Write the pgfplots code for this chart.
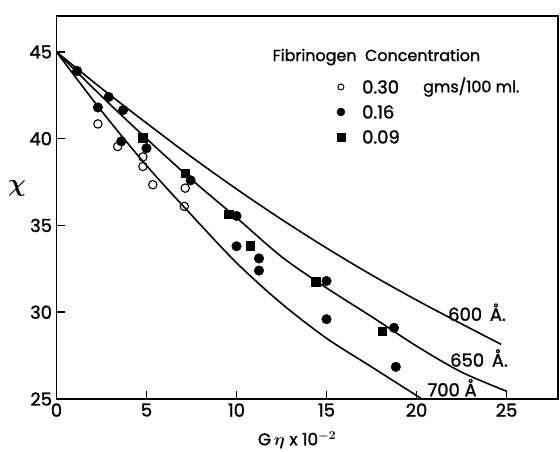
\documentclass[border=0pt]{standalone}
\usepackage{pgfplots}
\pgfplotsset{compat=1.18}
\usepackage{bm}
\usepackage{fontspec}
\setmainfont{Poppins}[FakeBold=1.3]
\begin{document}
\begin{tikzpicture}
\begin{axis}[name=ax, scale only axis, width=501.5bp, height=383bp,
  xmin=0, xmax=27.86, ymin=25, ymax=47.07, clip=false,
  axis line style={line width=1.7bp},
  xtick={0,5,10,15,20,25}, ytick={25,30,35,40,45},
  tick align=inside, xtick pos=lower, ytick pos=left,
  major tick length=8bp, tick style={line width=1.5bp, black},
  /pgf/number format/assume math mode=true,
  ticklabel style={font=\fontsize{18}{18}\selectfont},
  xticklabel style={yshift=-1bp},
  yticklabel style={xshift=-1bp},
]
% theoretical curves
\addplot[line width=1.6bp, smooth, tension=0.5] coordinates {(0,45) (2.5,42.9) (5,40.9) (7.5,38.95) (10,37.1) (12.5,35.35) (15,33.7) (17.5,32.15) (20,30.7) (22.5,29.33) (24.7,28.15)};
\addplot[line width=1.6bp, smooth, tension=0.5] coordinates {(0,45) (2.5,42.45) (5,40.0) (7.5,37.65) (10,35.45) (12.5,33.2) (15,31.4) (17.5,29.75) (20,28.05) (22.5,26.55) (25,25.45)};
\addplot[line width=1.6bp, smooth, tension=0.5] coordinates {(0,45) (2.5,41.6) (5,38.45) (7.5,35.6) (10,32.85) (12.5,30.5) (15,28.5) (17.5,26.85) (20,25.2) (20.3,25.0)};
% 0.30 open circles
\addplot[only marks, mark=o, mark size=4.2bp, mark options={line width=1.1bp, fill=white}] coordinates {(2.3,40.85) (3.4,39.55) (4.8,38.95) (4.8,38.4) (5.35,37.35) (7.15,37.15) (7.1,36.1)};
% 0.16 filled circles
\addplot[only marks, mark=*, mark size=4.8bp, black] coordinates {(1.15,43.9) (2.3,41.8) (2.9,42.4) (3.7,41.65) (3.6,39.85) (5.0,39.45) (7.45,37.6) (10.0,35.55) (10.0,33.8) (11.25,33.1) (11.25,32.4) (15.0,31.8) (15.0,29.6) (18.75,29.1) (18.85,26.85)};
% 0.09 filled squares
\addplot[only marks, mark=square*, mark size=4.3bp, black] coordinates {(4.8,40.05) (7.15,38.0) (9.55,35.65) (10.75,33.85) (14.4,31.75) (18.1,28.9)};
% legend
\node[anchor=west, font=\fontsize{16}{16}\selectfont, inner sep=0pt] at (axis cs:12.0,44.7) {Fibrinogen\ \ Concentration};
\addplot[only marks, mark=o, mark size=3bp, mark options={line width=1bp}] coordinates {(15.8,42.98)};
\addplot[only marks, mark=*, mark size=4bp, black] coordinates {(15.8,41.54)};
\addplot[only marks, mark=square*, mark size=3.8bp, black] coordinates {(15.8,40.1)};
\node[anchor=west, font=\fontsize{18}{18}\selectfont, inner sep=0pt] at (axis cs:16.97,42.98) {0.30};
\node[anchor=west, font=\fontsize{16}{16}\selectfont, inner sep=0pt] at (axis cs:20.36,42.98) {gms/100 ml.};
\node[anchor=west, font=\fontsize{18}{18}\selectfont, inner sep=0pt] at (axis cs:16.97,41.54) {0.16};
\node[anchor=west, font=\fontsize{18}{18}\selectfont, inner sep=0pt] at (axis cs:16.97,40.1) {0.09};
% curve labels
\node[anchor=west, font=\fontsize{18}{18}\selectfont, inner sep=0pt] at (axis cs:21.75,30.0) {600 \,Å.};
\node[anchor=west, font=\fontsize{18}{18}\selectfont, inner sep=0pt] at (axis cs:21.86,27.36) {650 \,Å.};
\node[anchor=west, font=\fontsize{18}{18}\selectfont, inner sep=0pt] at (axis cs:20.6,25.65) {700 Å};
\end{axis}
% axis labels
\node[font=\fontsize{17}{17}\selectfont] at ([shift={(240.5bp,-41bp)}]ax.south west) {G\,$\bm{\eta}$ x 10$^{\bm{-2}}$};
\node[font=\fontsize{32}{32}\selectfont] at ([shift={(-39.5bp,211bp)}]ax.south west) {$\bm{\chi}$};
\path[use as bounding box] ([shift={(-56.5bp,-51bp)}]ax.south west) rectangle ([shift={(2bp,16bp)}]ax.north east);
\end{tikzpicture}
\end{document}
